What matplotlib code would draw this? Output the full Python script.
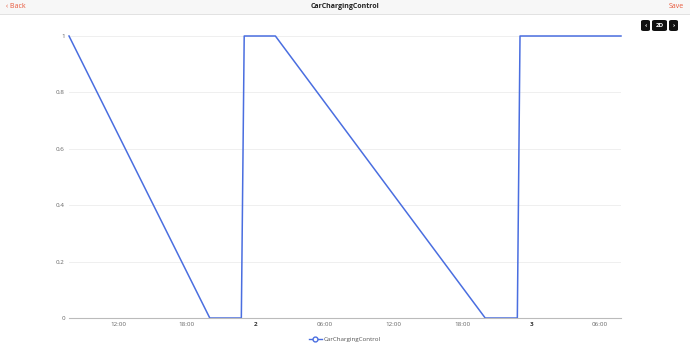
import datetime as dt

import matplotlib.pyplot as plt
import matplotlib.dates as mdates
from matplotlib.patches import Rectangle, FancyBboxPatch

# CarChargingControl state over the 2D window
times = [
    "2021-03-01 07:44", "2021-03-01 20:00", "2021-03-01 22:45", "2021-03-01 23:00",
    "2021-03-02 01:43", "2021-03-02 20:00", "2021-03-02 22:48", "2021-03-02 23:02",
    "2021-03-03 07:50",
]
values = [1, 0, 0, 1, 1, 0, 0, 1, 1]
y_ticks = [0, 0.2, 0.4, 0.6, 0.8, 1]
y_labels = ["0", "0.2", "0.4", "0.6", "0.8", "1"]

x = [dt.datetime.strptime(t, "%Y-%m-%d %H:%M") for t in times]

plt.rcParams["font.family"] = ["Open Sans", "DejaVu Sans"]
W, H = 690, 343
fig = plt.figure(figsize=(W / 100, H / 100), dpi=100)
fig.patch.set_facecolor("white")

# header bar
fig.patches.append(Rectangle((0, 1 - 14 / H), 1, 14 / H, transform=fig.transFigure,
                             facecolor="#f7f7f7", edgecolor="none"))
fig.patches.append(Rectangle((0, 1 - 15 / H), 1, 1 / H, transform=fig.transFigure,
                             facecolor="#e2e2e2", edgecolor="none"))
fig.text(6 / W, 1 - 7 / H, "\u2039 Back", color="#e8573a", fontsize=5, va="center", ha="left")
fig.text(0.5, 1 - 7 / H, "CarChargingControl", color="#222222", fontsize=5,
         fontweight="bold", va="center", ha="center")
fig.text(684 / W, 1 - 7 / H, "Save", color="#e8573a", fontsize=5, va="center", ha="right")

# period buttons
for bx, bw, lab in [(641, 9, "\u2039"), (652, 15, "2D"), (669, 9, "\u203a")]:
    fig.patches.append(FancyBboxPatch((bx / W, 1 - 31 / H), bw / W, 11 / H,
                                      boxstyle="round,pad=0,rounding_size=0.004",
                                      transform=fig.transFigure, facecolor="#111111",
                                      edgecolor="none"))
    fig.text((bx + bw / 2) / W, 1 - 25.5 / H, lab, color="white", fontsize=4.5,
             ha="center", va="center", fontweight="bold")

ax = fig.add_axes([69 / W, 1 - 318 / H, (621 - 69) / W, (318 - 36) / H])
ax.plot(x, values, color="#4a6ee0", lw=1.1, clip_on=False)
ax.set_xlim(x[0], x[-1])
ax.set_ylim(0, 1)

ax.set_yticks(y_ticks)
ax.set_yticklabels(y_labels)
ax.grid(axis="y", color="#ececec", lw=0.6)
ax.set_axisbelow(True)

ax.xaxis.set_major_locator(mdates.HourLocator(byhour=[0, 6, 12, 18]))


def fmt(v, pos):
    d = mdates.num2date(v)
    if d.hour == 0:
        return str(d.day)
    return d.strftime("%H:%M")


ax.xaxis.set_major_formatter(plt.FuncFormatter(fmt))

for s in ["top", "right", "left"]:
    ax.spines[s].set_visible(False)
ax.spines["bottom"].set_color("#bbbbbb")
ax.spines["bottom"].set_linewidth(0.8)
ax.tick_params(axis="both", labelsize=4.5, colors="#666666", length=0, pad=3)

fig.canvas.draw()
for lab in ax.get_xticklabels():
    if lab.get_text() in ("2", "3"):
        lab.set_fontweight("bold")
        lab.set_color("#333333")

# legend
leg = ax.legend([plt.Line2D([], [], color="#4a6ee0", lw=1, marker="o", markersize=3.5,
                            markerfacecolor="white", markeredgecolor="#4a6ee0")],
                ["CarChargingControl"], loc="center", bbox_to_anchor=(0.5, -21 / 282),
                frameon=False, fontsize=4.5, handlelength=2, handletextpad=0.4)
for t in leg.get_texts():
    t.set_color("#555555")

fig.savefig("out.png", dpi=100)
